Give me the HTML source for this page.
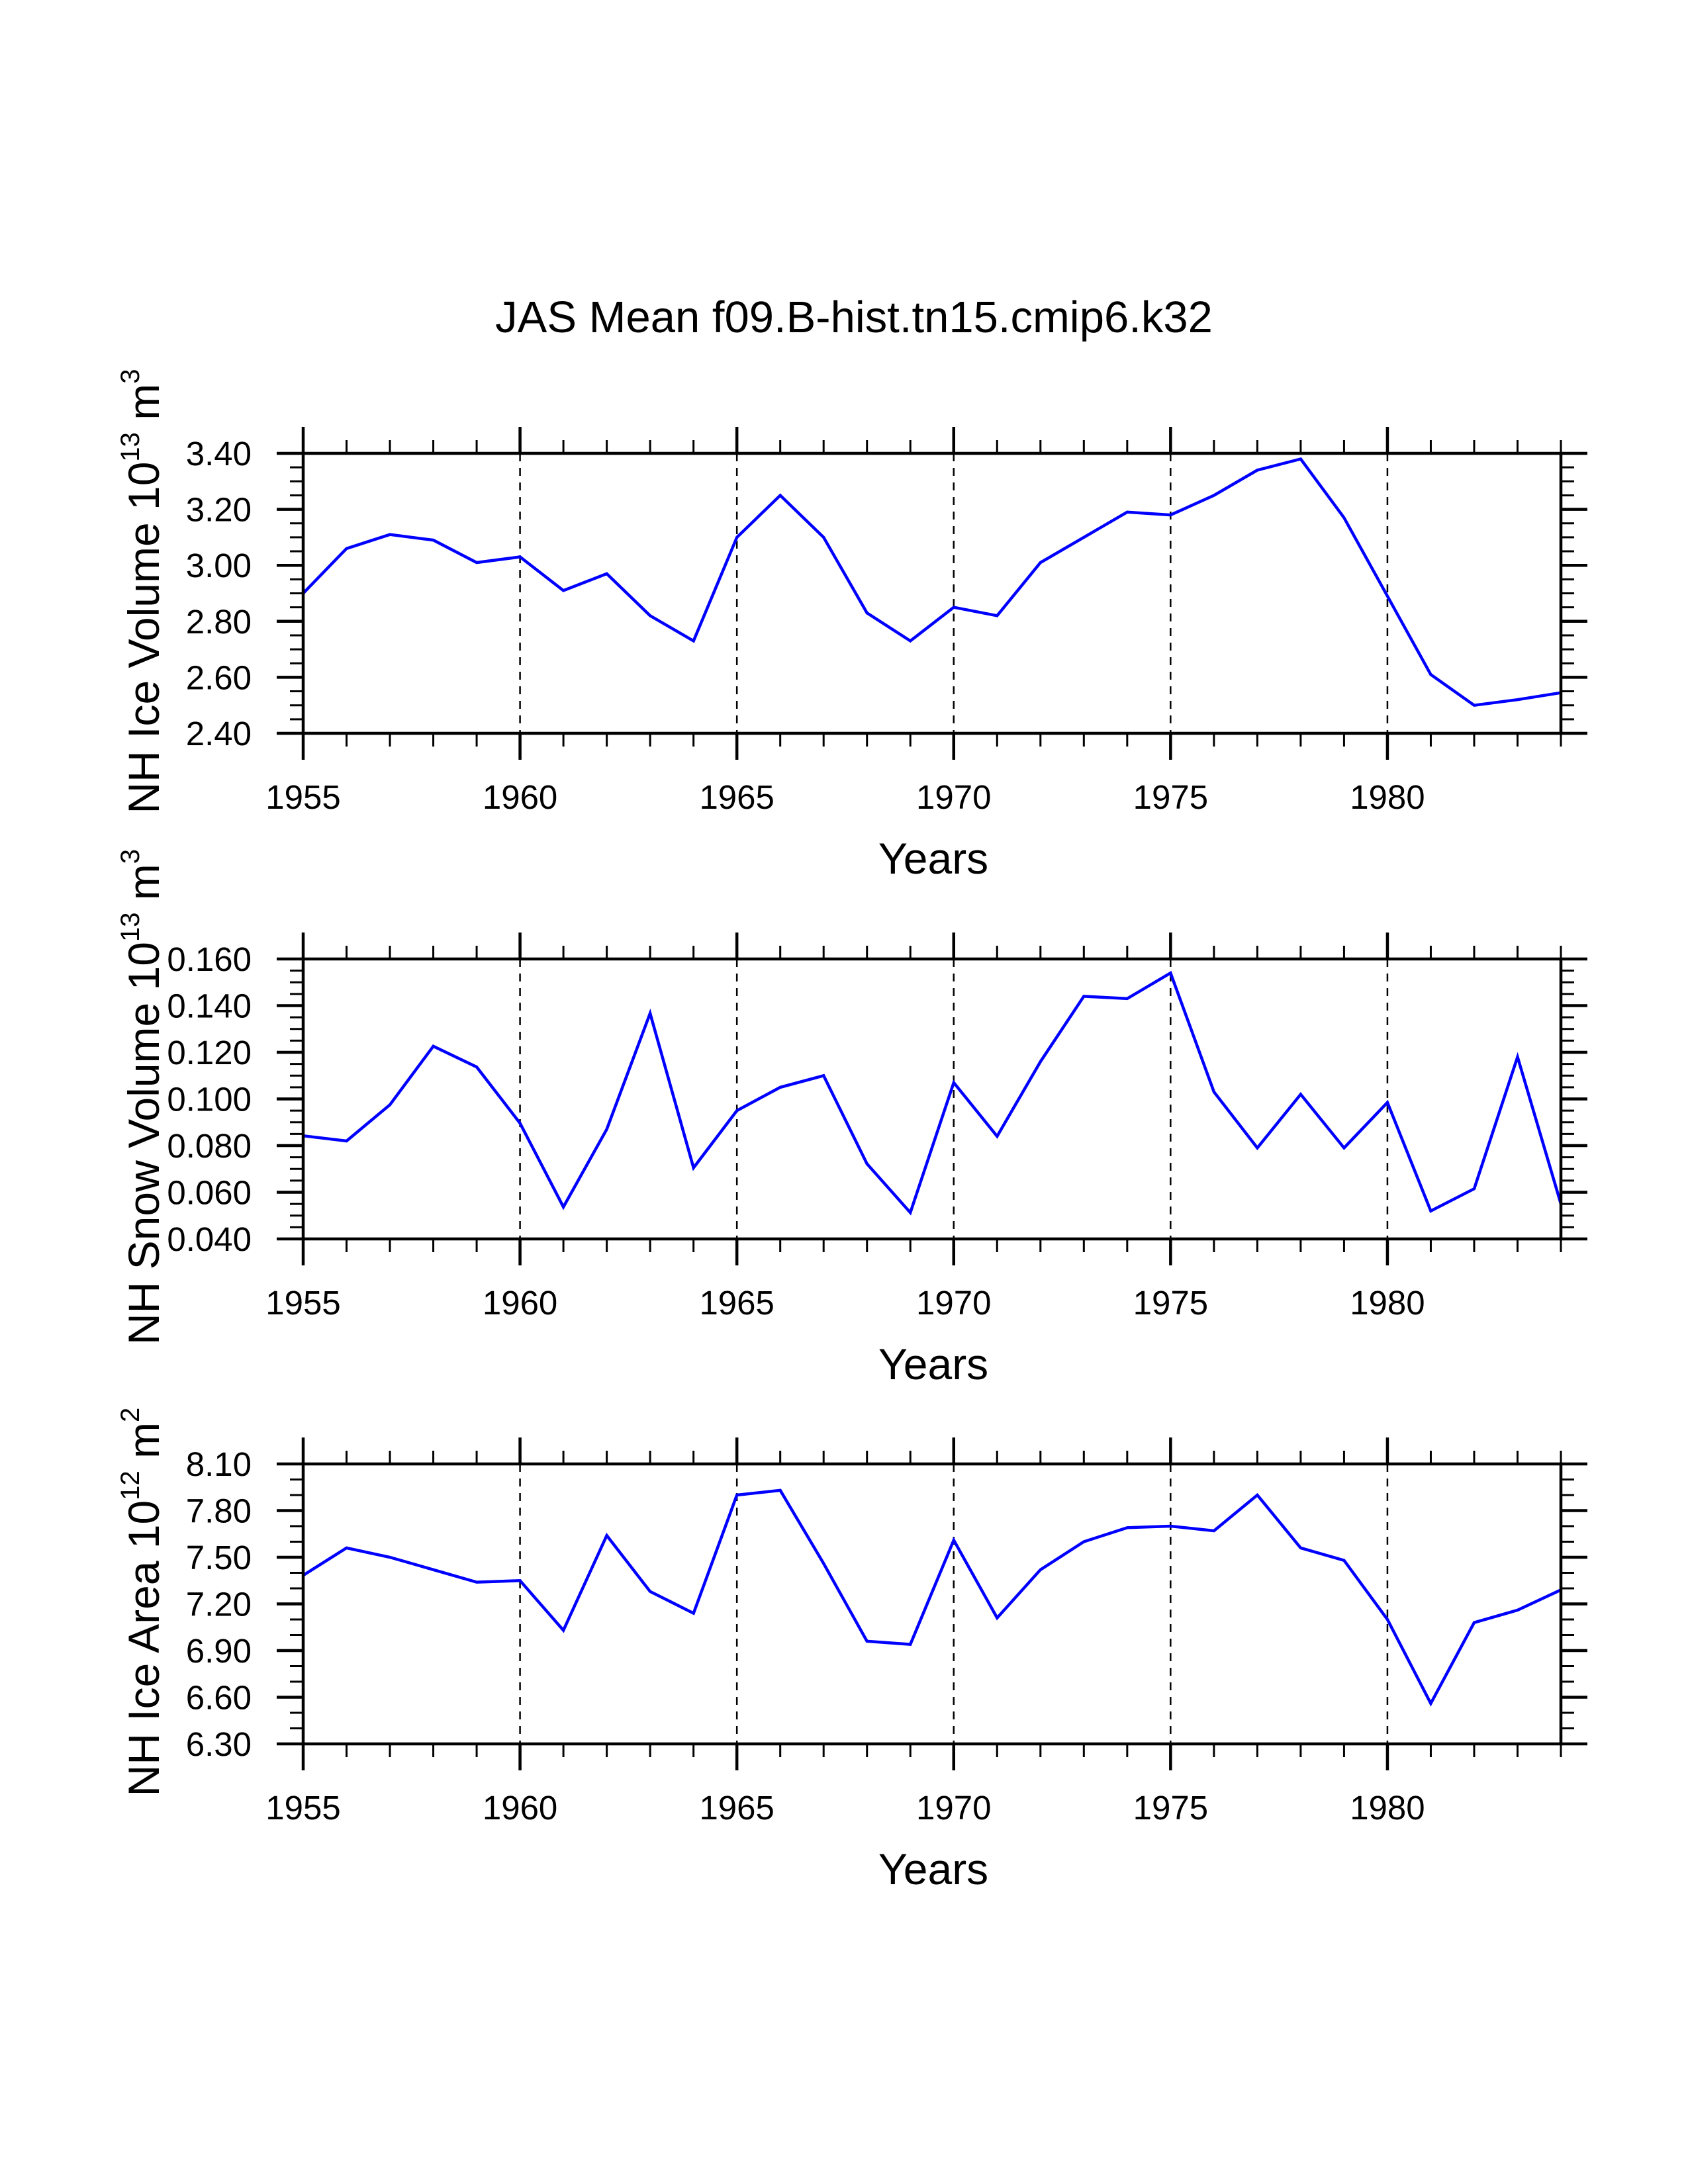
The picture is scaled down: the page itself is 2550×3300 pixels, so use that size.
<!DOCTYPE html>
<html><head><meta charset="utf-8"><style>html,body{margin:0;padding:0;background:#fff}svg{display:block}text{font-family:"Liberation Sans",sans-serif;fill:#000}</style></head>
<body>
<svg id="chart" width="2550" height="3300" viewBox="0 0 2550 3300" xmlns="http://www.w3.org/2000/svg">
<text x="1290" y="502" font-size="67" text-anchor="middle">JAS Mean f09.B-hist.tn15.cmip6.k32</text>
</svg>
<script>
const years = [1955,1956,1957,1958,1959,1960,1961,1962,1963,1964,1965,1966,1967,1968,1969,1970,1971,1972,1973,1974,1975,1976,1977,1978,1979,1980,1981,1982,1983,1984];
const iceVolume = [2.90,3.06,3.11,3.09,3.01,3.03,2.91,2.97,2.82,2.73,3.10,3.25,3.10,2.83,2.73,2.85,2.82,3.01,3.10,3.19,3.18,3.25,3.34,3.38,3.17,2.89,2.61,2.50,2.52,2.545];
const snowVolume = [0.0842,0.082,0.0975,0.1226,0.1137,0.0896,0.0537,0.087,0.1367,0.0705,0.095,0.105,0.110,0.0722,0.0513,0.107,0.084,0.116,0.144,0.143,0.154,0.103,0.079,0.102,0.079,0.0985,0.052,0.0615,0.118,0.055];
const iceArea = [7.384,7.56,7.50,7.42,7.34,7.35,7.03,7.64,7.28,7.14,7.90,7.93,7.46,6.96,6.94,7.61,7.11,7.42,7.60,7.69,7.70,7.67,7.90,7.56,7.48,7.10,6.56,7.08,7.16,7.29];
const xMajorTicks = [1955,1960,1965,1970,1975,1980];
const iceVolumeTicks = ["2.40","2.60","2.80","3.00","3.20","3.40"];
const snowVolumeTicks = ["0.040","0.060","0.080","0.100","0.120","0.140","0.160"];
const iceAreaTicks = ["6.30","6.60","6.90","7.20","7.50","7.80","8.10"];

const NS="http://www.w3.org/2000/svg";
const svg=document.getElementById('chart');
const L=458,R=2358,H=423;
const xMin=1955,xMax=1984;
function xs(v){return L+(v-xMin)/(xMax-xMin)*(R-L);}
function mk(tag,attrs,parent){const e=document.createElementNS(NS,tag);for(const k in attrs)e.setAttribute(k,attrs[k]);(parent||svg).appendChild(e);return e;}
function line(g,x1,y1,x2,y2,w,extra){return mk('line',Object.assign({x1,y1,x2,y2,stroke:'#000','stroke-width':w},extra||{}),g);}

function panel(name,top,data,ticks,nMinor,titleParts){
  const g=mk('g',{});
  
  
  const B=top+H;
  const yMin=parseFloat(ticks[0]),yMax=parseFloat(ticks[ticks.length-1]);
  const ys=v=>B-(v-yMin)/(yMax-yMin)*H;
  const step=(yMax-yMin)/(ticks.length-1);
  xMajorTicks.forEach(yr=>{ if(yr>xMin&&yr<xMax){
    const d=line(g,xs(yr),top,xs(yr),B,2.5,{'stroke-dasharray':'12,10'});
    
    
  }});
  const pts=years.map((yr,i)=>xs(yr).toFixed(1)+','+ys(data[i]).toFixed(1)).join(' ');
  const pl=mk('polyline',{points:pts,fill:'none',stroke:'#0000ff','stroke-width':4.5,'stroke-linejoin':'miter'},g);
  
  
  const fr=mk('rect',{x:L,y:top,width:R-L,height:H,fill:'none',stroke:'#000','stroke-width':4.5},g);
  
  
  for(let yr=xMin;yr<=xMax;yr++){
    const maj=xMajorTicks.includes(yr);const len=maj?40:20;const w=maj?4.5:3;
    line(g,xs(yr),top,xs(yr),top-len,w);
    line(g,xs(yr),B,xs(yr),B+len,w);
  }
  xMajorTicks.forEach(yr=>{
    const t=mk('text',{x:xs(yr),y:B+114,'font-size':51,'text-anchor':'middle'},g);
    t.textContent=yr;
    
    
  });
  for(let i=0;i<ticks.length;i++){
    const y=ys(parseFloat(ticks[i]));
    line(g,L,y,L-40,y,4.5);line(g,R,y,R+40,y,4.5);
    const t=mk('text',{x:380,y:y+18,'font-size':51,'text-anchor':'end'},g);
    t.textContent=ticks[i];
    
    
    if(i<ticks.length-1){for(let k=1;k<=nMinor;k++){const yy=ys(parseFloat(ticks[i])+step*k/(nMinor+1));line(g,L,yy,L-20,yy,3);line(g,R,yy,R+20,yy,3);}}
  }
  const xt=mk('text',{x:1410,y:B+212,'font-size':66,'text-anchor':'middle'},g);
  xt.textContent='Years';
  
  
  const yt=mk('text',{x:0,y:0,'font-size':66,'text-anchor':'middle',transform:`translate(240,${top+H/2-3}) rotate(-90)`},g);
  
  
  const a=mk('tspan',{},yt);a.textContent=titleParts[0]+' 10';
  const b=mk('tspan',{dy:-30,'font-size':40},yt);b.textContent=titleParts[1];
  const c=mk('tspan',{dy:30},yt);c.textContent=' m';
  const d=mk('tspan',{dy:-30,'font-size':40},yt);d.textContent=titleParts[2];
}
panel('ice-volume',685,iceVolume,iceVolumeTicks,3,['NH Ice Volume','13','3']);
panel('snow-volume',1449,snowVolume,snowVolumeTicks,3,['NH Snow Volume','13','3']);
panel('ice-area',2212,iceArea,iceAreaTicks,2,['NH Ice Area','12','2']);
</script>
</body></html>
